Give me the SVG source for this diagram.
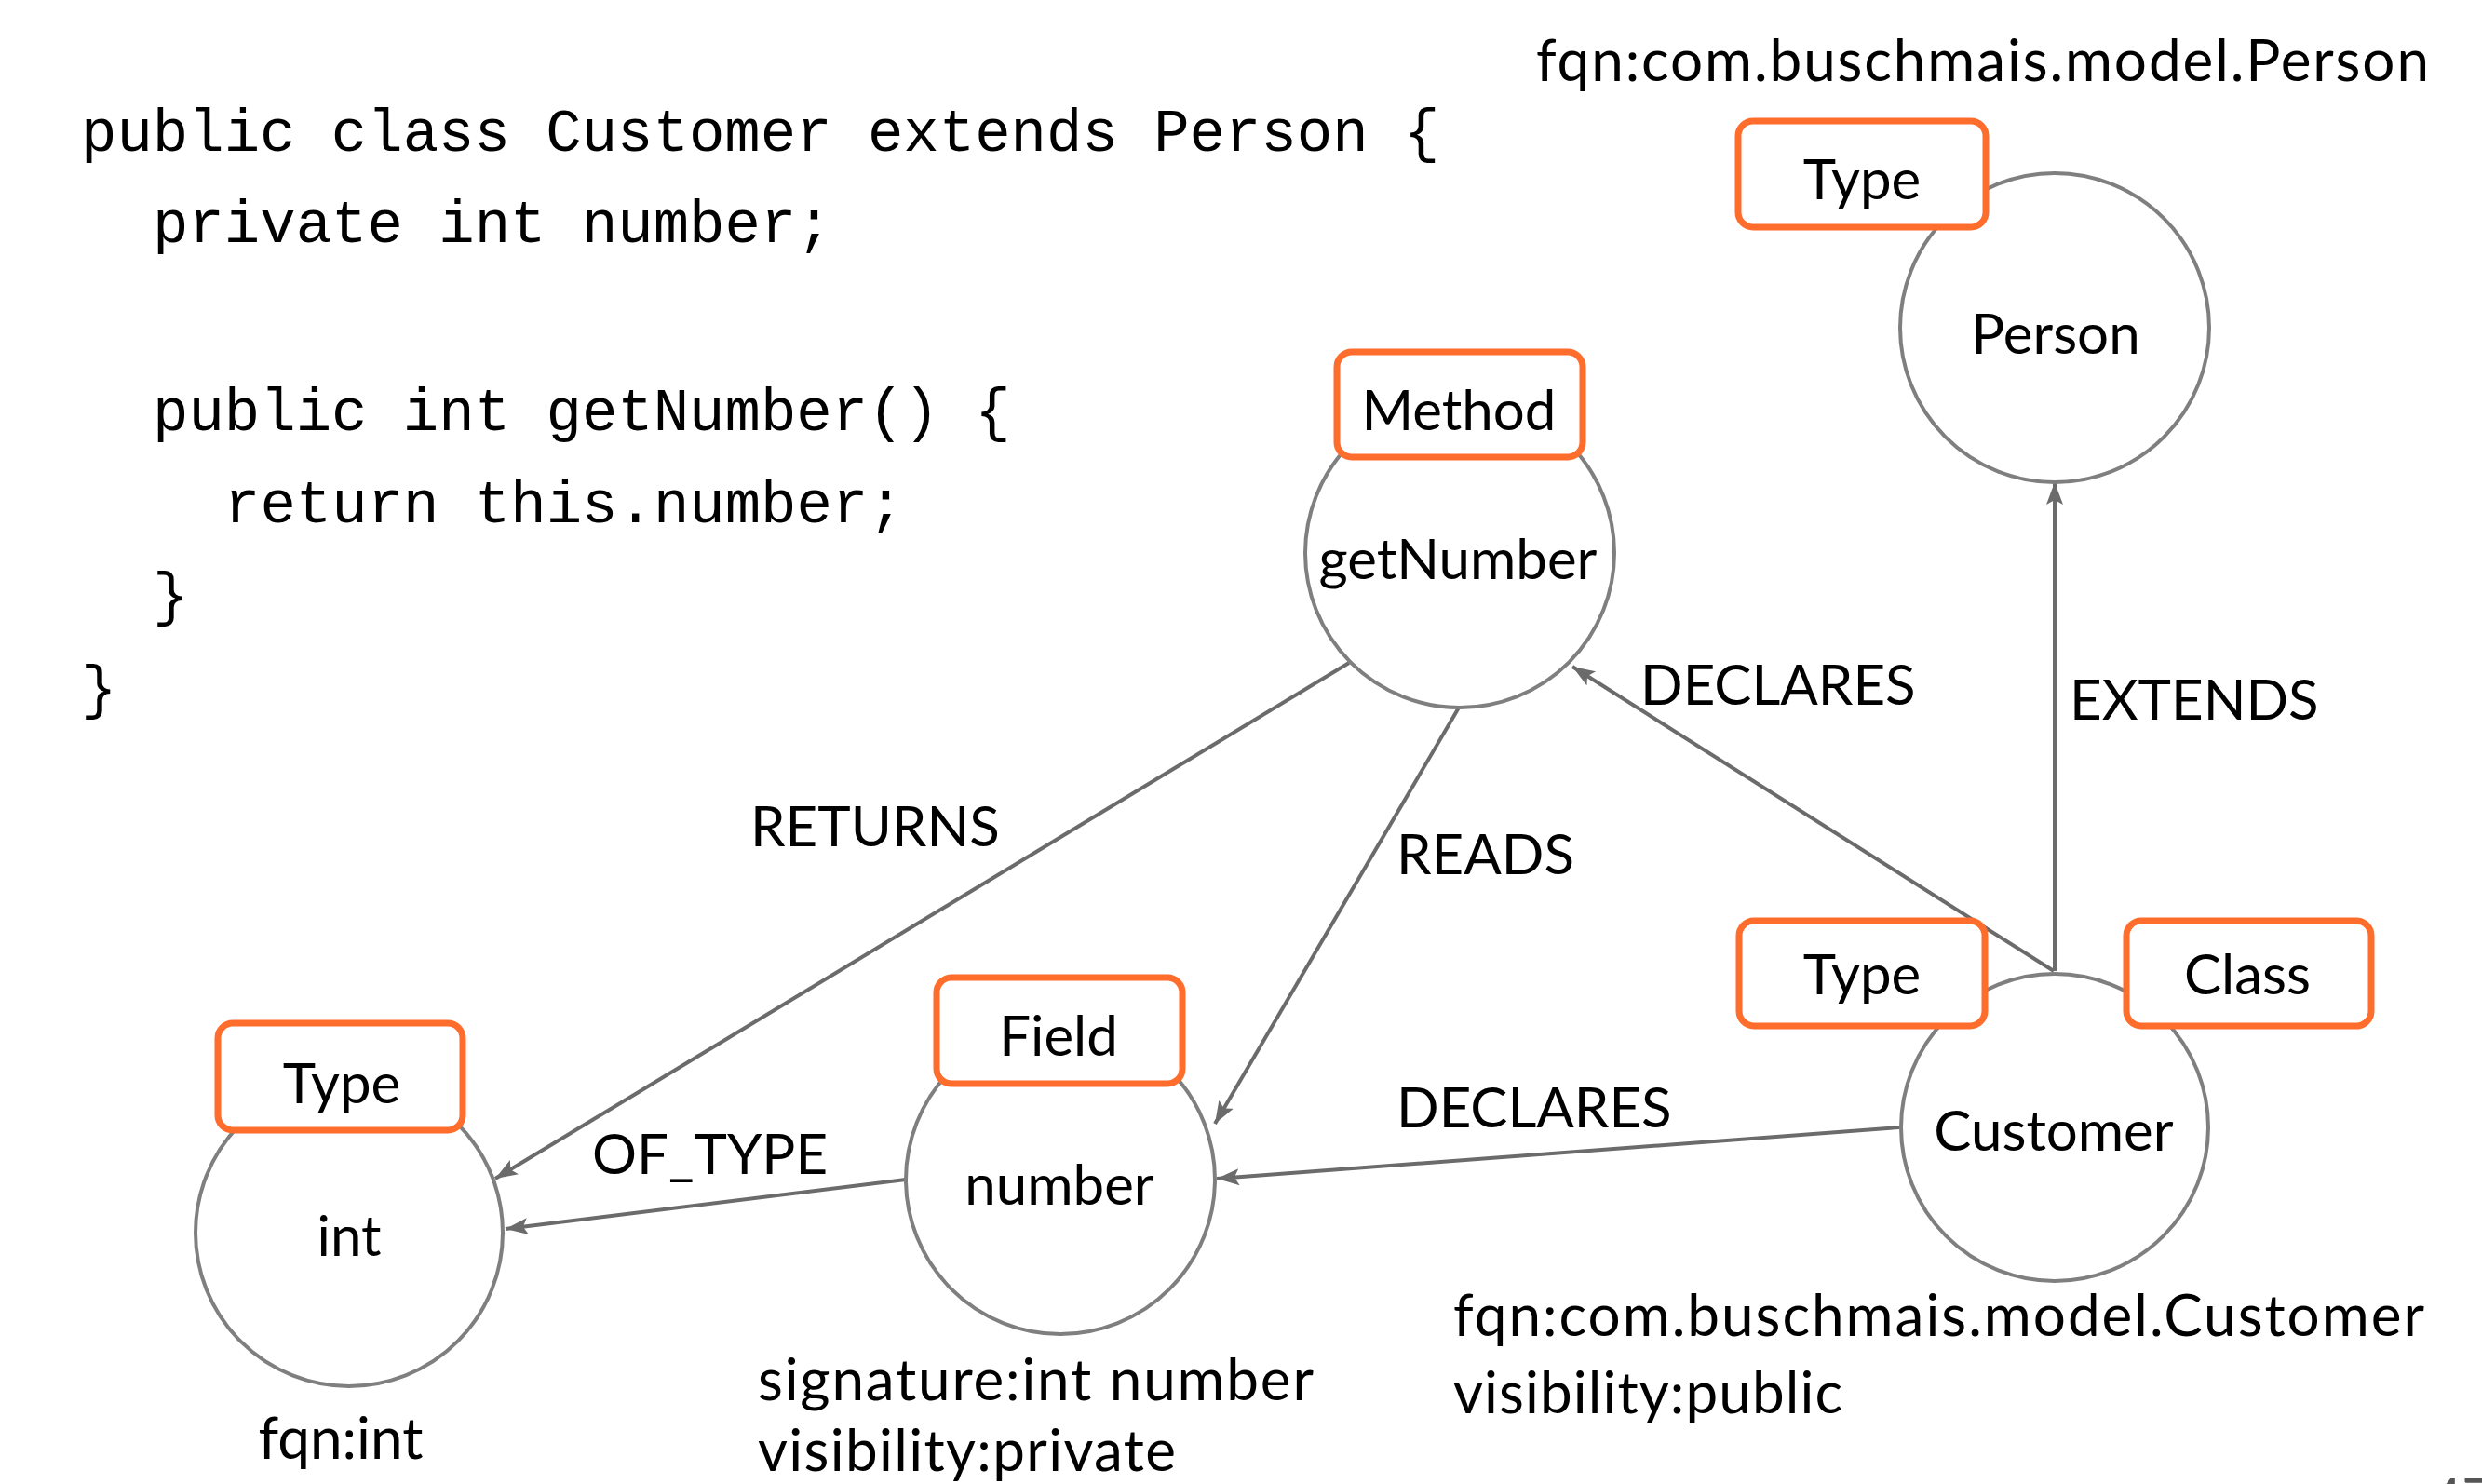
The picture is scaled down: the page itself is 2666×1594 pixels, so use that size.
<svg xmlns="http://www.w3.org/2000/svg" width="2666" height="1594" viewBox="0 0 2666 1594">
<defs>
<style>
.code{font-family:"Liberation Mono","DejaVu Sans Mono",monospace;font-size:64px;fill:#000}
.lbl{font-family:Lato,"Open Sans","Liberation Sans",sans-serif;font-size:60px;fill:#000}
.prop{font-family:Lato,"Open Sans","Liberation Sans",sans-serif;font-size:62px;fill:#000}
.mid{text-anchor:middle}
.node{fill:#fff;stroke:#7f7f7f;stroke-width:4}
.tag{fill:#fff;stroke:#ff6d2d;stroke-width:7}
.edge{stroke:#6b6b6b;stroke-width:4;fill:none;marker-end:url(#arr)}
</style>
<marker id="arr" markerUnits="userSpaceOnUse" markerWidth="26" markerHeight="20" refX="24" refY="10" orient="auto">
<path d="M0,1 L24,10 L0,19 L5,10 Z" fill="#6b6b6b"/>
</marker>
</defs>
<rect width="2666" height="1594" fill="#fff"/>
<g id="code">
<text class="code" x="87" y="162">public class Customer extends Person {</text>
<text class="code" x="164" y="260">private int number;</text>
<text class="code" x="164" y="462">public int getNumber() {</text>
<text class="code" x="241" y="561">return this.number;</text>
<text class="code" x="164" y="660">}</text>
<text class="code" x="87" y="760">}</text>
</g>
<g id="connectors">
<line class="edge" x1="1449" y1="712" x2="532" y2="1266"/>
<line class="edge" x1="1567" y1="760" x2="1305" y2="1207"/>
<line class="edge" x1="2206" y1="1043" x2="1689" y2="716"/>
<line class="edge" x1="2207" y1="1043" x2="2207" y2="518"/>
<line class="edge" x1="2040" y1="1211" x2="1307" y2="1266"/>
<line class="edge" x1="973" y1="1267" x2="543" y2="1320"/>
<text class="lbl" x="806" y="909">RETURNS</text>
<text class="lbl" x="1500" y="939">READS</text>
<text class="lbl" x="1762" y="757">DECLARES</text>
<text class="lbl" x="2223" y="773">EXTENDS</text>
<text class="lbl" x="1500" y="1211">DECLARES</text>
<text class="lbl" x="636" y="1261">OF_TYPE</text>
</g>
<g id="person">
<circle class="node" cx="2207" cy="352" r="166"/>
<rect class="tag" x="1867" y="130" width="266" height="114" rx="16"/>
<text class="lbl mid" x="2000" y="214">Type</text>
<text class="lbl mid" x="2208" y="380">Person</text>
<text class="prop" x="1650" y="87" textLength="959" lengthAdjust="spacing">fqn:com.buschmais.model.Person</text>
</g>
<g id="getNumber">
<circle class="node" cx="1568" cy="594" r="166"/>
<rect class="tag" x="1436" y="378" width="264" height="113" rx="16"/>
<text class="lbl mid" x="1567" y="462">Method</text>
<text class="lbl mid" x="1566" y="622">getNumber</text>
</g>
<g id="customer">
<circle class="node" cx="2207" cy="1211" r="165"/>
<rect class="tag" x="1868" y="989" width="264" height="113" rx="16"/>
<rect class="tag" x="2284" y="989" width="263" height="113" rx="16"/>
<text class="lbl mid" x="2000" y="1068">Type</text>
<text class="lbl mid" x="2414" y="1068">Class</text>
<text class="lbl mid" x="2206" y="1236">Customer</text>
<text class="prop" x="1561" y="1435" textLength="1043" lengthAdjust="spacing">fqn:com.buschmais.model.Customer</text>
<text class="prop" x="1561" y="1518" textLength="418" lengthAdjust="spacing">visibility:public</text>
</g>
<g id="number">
<circle class="node" cx="1139" cy="1267" r="166"/>
<rect class="tag" x="1006" y="1050" width="264" height="114" rx="16"/>
<text class="lbl mid" x="1137" y="1134">Field</text>
<text class="lbl mid" x="1138" y="1294">number</text>
<text class="prop" x="814" y="1504" textLength="597" lengthAdjust="spacing">signature:int number</text>
<text class="prop" x="814" y="1580" textLength="449" lengthAdjust="spacing">visibility:private</text>
</g>
<g id="int">
<circle class="node" cx="375" cy="1324" r="165"/>
<rect class="tag" x="234" y="1099" width="263" height="115" rx="16"/>
<text class="lbl mid" x="367" y="1185">Type</text>
<text class="lbl mid" x="375" y="1349">int</text>
<text class="prop mid" x="366" y="1567">fqn:int</text>
</g>
<text x="2612" y="1628" style="font-family:Lato,sans-serif;font-size:56px;fill:#555">47</text>
</svg>
